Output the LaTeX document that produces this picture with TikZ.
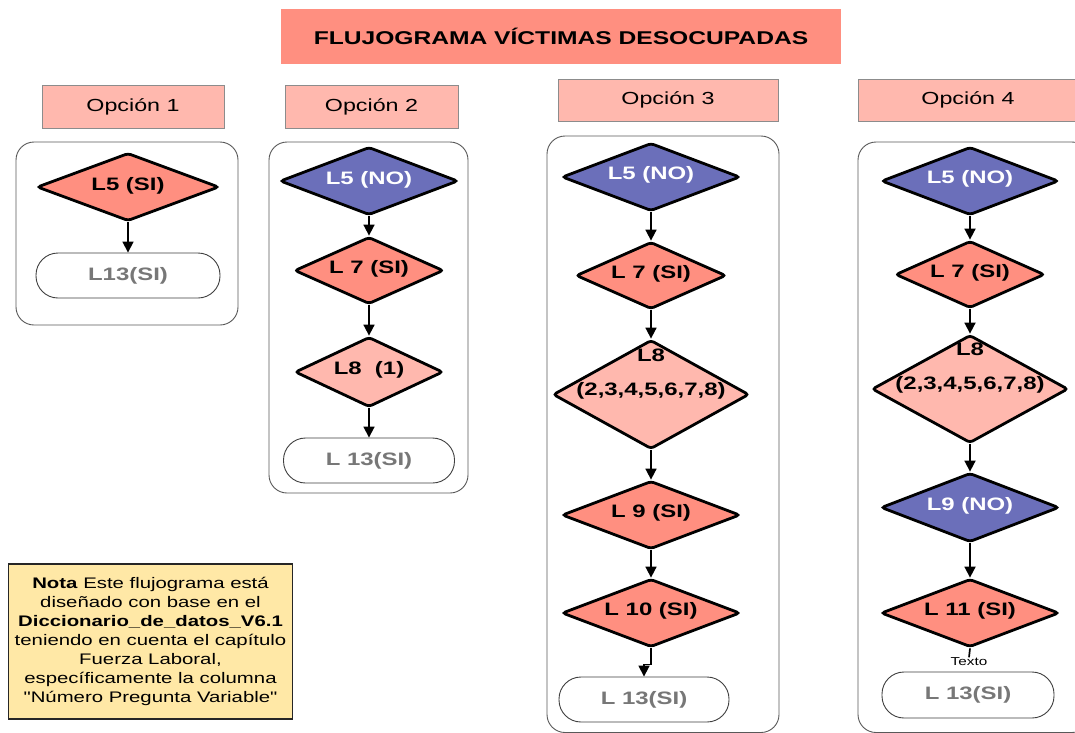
\documentclass[tikz,border=0pt]{standalone}
\usepackage{fontspec}
\setmainfont{Liberation Sans}[FakeStretch=1.33, Ligatures=TeXOff]
\usetikzlibrary{shapes.geometric,arrows.meta}
\definecolor{salmon}{HTML}{FF8F80}
\definecolor{pinkl}{HTML}{FFB8AE}
\definecolor{bluen}{HTML}{6B6FBA}
\definecolor{yel}{HTML}{FFE8A6}
\definecolor{termtxt}{HTML}{777777}
\begin{document}
\begin{tikzpicture}[x=1pt,y=-1pt,
 dia/.style={shape=diamond, draw=black, line width=2.8pt, rounded corners=3pt, inner sep=0pt},
 dtext/.style={font=\fontsize{18}{20}\selectfont\bfseries, inner sep=0pt},
 term/.style={draw=black!75, line width=0.9pt, rounded corners=22pt, fill=white, font=\fontsize{18}{20}\selectfont\bfseries, text=termtxt, inner sep=0pt},
 cont/.style={draw=black!65, line width=0.9pt, rounded corners=18pt, fill=white},
 opt/.style={draw=black!45, line width=0.8pt, fill=pinkl, font=\fontsize{17.5}{20}\selectfont, inner sep=0pt},
 arr/.style={-{Triangle[length=11pt,width=11pt]}, line width=1.7pt}]
\clip (0,0) rectangle (1075,732);
\fill[white] (0,0) rectangle (1075,732);

% title
\node[fill=salmon, minimum width=560, minimum height=55, inner sep=0pt, font=\fontsize{18.5}{20}\selectfont\bfseries] (title) at (561,36.5) {FLUJOGRAMA VÍCTIMAS DESOCUPADAS};

% option headers
\node[opt, minimum width=182, minimum height=43] (o1) at (133,106.5) {Opción 1};
\node[opt, minimum width=173, minimum height=43] (o2) at (371.5,106.5) {Opción 2};
\node[opt, minimum width=220, minimum height=42] (o3) at (668,100) {Opción 3};
\node[opt, minimum width=220, minimum height=42] (o4) at (968,100) {Opción 4};

% containers
\draw[cont] (16,142) rectangle (238,325);
\draw[cont] (269,142) rectangle (468,493);
\draw[cont] (547,136) rectangle (779,732.5);
\draw[cont] (858,142) rectangle (1090,732.5);

% ---------- column 1
\node[dia, fill=salmon, minimum width=182, minimum height=68] (a1) at (128,187) {};
\node[dtext] (a1t) at (128,186) {L5 (SI)};
\node[term, minimum width=184, minimum height=45] (t1) at (128,275.5) {L13(SI)};
\draw[arr] (a1.south) -- (t1.north);

% ---------- column 2
\node[dia, fill=bluen, minimum width=178, minimum height=68] (b1) at (369,181) {};
\node[dtext, text=white] (b1t) at (369,180) {L5 (NO)};
\node[dia, fill=salmon, minimum width=149, minimum height=67] (b2) at (369,270.5) {};
\node[dtext] (b2t) at (369,269) {L 7 (SI)};
\node[dia, fill=pinkl, minimum width=148, minimum height=70] (b3) at (369,372) {};
\node[dtext] (b3t) at (369,370) {L8\ \ (1)};
\node[term, minimum width=171, minimum height=45] (t2) at (369,460.5) {L 13(SI)};
\draw[arr] (b1.south) -- (b2.north);
\draw[arr] (b2.south) -- (b3.north);
\draw[arr] (b3.south) -- (t2.north);

% ---------- column 3
\node[dia, fill=bluen, minimum width=178, minimum height=68] (c1) at (651,177) {};
\node[dtext, text=white] (c1t) at (651,175) {L5 (NO)};
\node[dia, fill=salmon, minimum width=150, minimum height=67] (c2) at (651,275.5) {};
\node[dtext] (c2t) at (651,274) {L 7 (SI)};
\node[dia, fill=pinkl, minimum width=196, minimum height=109] (c3) at (651,394.5) {};
\node[dtext] (c3a) at (651,355) {L8};
\node[dtext] (c3b) at (651,391) {(2,3,4,5,6,7,8)};
\node[dia, fill=salmon, minimum width=178, minimum height=68] (c4) at (651,515) {};
\node[dtext] (c4t) at (651,513) {L 9 (SI)};
\node[dia, fill=salmon, minimum width=178, minimum height=68] (c5) at (651,613) {};
\node[dtext] (c5t) at (651,611) {L 10 (SI)};
\node[term, minimum width=170, minimum height=45] (t3) at (644,699.5) {L 13(SI)};
\draw[arr] (c1.south) -- (c2.north);
\draw[arr] (c2.south) -- (c3.north);
\draw[arr] (c3.south) -- (c4.north);
\draw[arr] (c4.south) -- (c5.north);
\draw[arr] (c5.south) -- ++(0,16) -| (t3.north);

% ---------- column 4
\node[dia, fill=bluen, minimum width=177, minimum height=68] (d1) at (970,181) {};
\node[dtext, text=white] (d1t) at (970,179) {L5 (NO)};
\node[dia, fill=salmon, minimum width=149, minimum height=67] (d2) at (970,274.5) {};
\node[dtext] (d2t) at (970,273) {L 7 (SI)};
\node[dia, fill=pinkl, minimum width=196, minimum height=108] (d3) at (970,389) {};
\node[dtext] (d3a) at (970,349) {L8};
\node[dtext] (d3b) at (970,385) {(2,3,4,5,6,7,8)};
\node[dia, fill=bluen, minimum width=178, minimum height=69] (d4) at (970,507.5) {};
\node[dtext, text=white] (d4t) at (970,506) {L9 (NO)};
\node[dia, fill=salmon, minimum width=178, minimum height=68] (d5) at (970,613) {};
\node[dtext] (d5t) at (970,611) {L 11 (SI)};
\node[font=\fontsize{11.5}{12}\selectfont, inner sep=0.5pt] (tx) at (969,662) {Texto};
\node[term, minimum width=172, minimum height=46] (t4) at (968,695) {L 13(SI)};
\draw[arr] (d1.south) -- (d2.north);
\draw[arr] (d2.south) -- (d3.north);
\draw[arr] (d3.south) -- (d4.north);
\draw[arr] (d4.south) -- (d5.north);
\draw[line width=1.7pt] (d5.south) -- (tx.north);

% ---------- note
\node[draw=black!85, line width=1.3pt, fill=yel, minimum width=284, minimum height=155, inner sep=0pt, align=center, font=\fontsize{15.3}{19}\selectfont] (nota) at (150.5,641.5) {\textbf{Nota} Este flujograma está\\diseñado con base en el\\\textbf{Diccionario\_de\_datos\_V6.1}\\teniendo en cuenta el capítulo\\Fuerza Laboral,\\específicamente la columna\\"Número Pregunta Variable"};
\end{tikzpicture}
\end{document}
